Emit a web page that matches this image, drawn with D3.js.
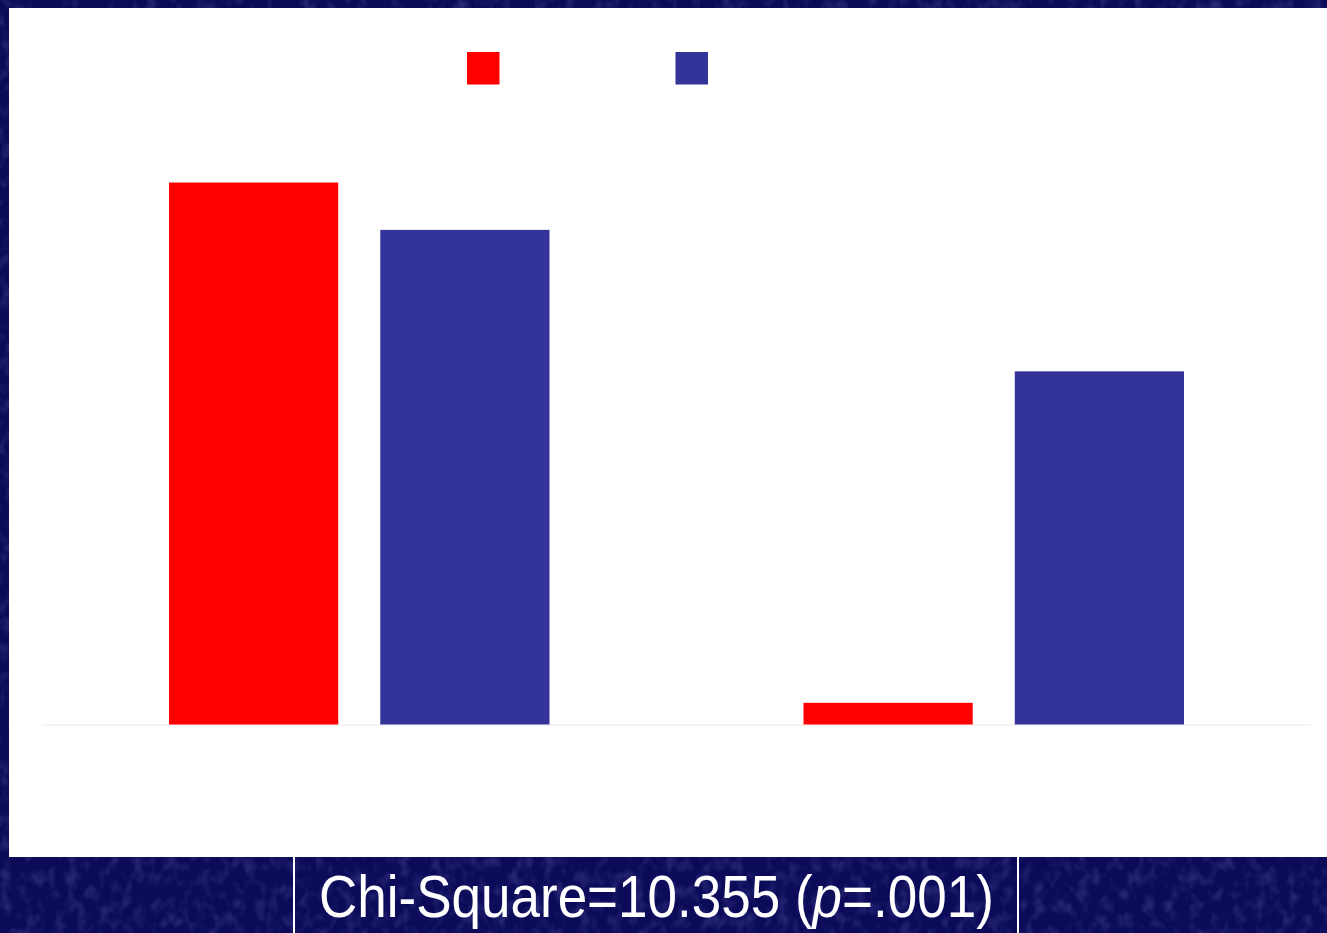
<!DOCTYPE html>
<html>
<head>
<meta charset="utf-8">
<script src="https://cdn.jsdelivr.net/npm/d3@7"></script>
<style>
  html, body { margin: 0; padding: 0; background: #0b0b5a; }
  svg { display: block; }
</style>
</head>
<body>
<svg id="chart" width="1327" height="933"></svg>
<script>
// Groups, series and percentages per group
const groups = ["Group A", "Group B"];
const series = ["Series 1", "Series 2"];
const seriesColors = ["#ff0000", "#333399"];
const valuesSeries1 = [95.0, 3.8];
const valuesSeries2 = [86.7, 61.9];
const statText = ["Chi-Square=10.355 (", "p", "=.001)"];

const W = 1327, H = 933;
const svg = d3.select("#chart");

// textured navy slide background
const defs = svg.append("defs");
const f = defs.append("filter").attr("id", "grain")
  .attr("x", 0).attr("y", 0).attr("width", "100%").attr("height", "100%");
f.append("feTurbulence").attr("type", "fractalNoise")
  .attr("baseFrequency", "0.09 0.07").attr("numOctaves", 2).attr("seed", 7);
f.append("feColorMatrix").attr("type", "matrix")
  .attr("values", "0 0 0 0 0.2  0 0 0 0 0.2  0 0 0 0 0.58  0 0 0 1.1 -0.5");
f.append("feComposite").attr("in2", "SourceGraphic").attr("operator", "in");

svg.append("rect").attr("width", W).attr("height", H).attr("fill", "#0b0b5a");
svg.append("rect").attr("width", W).attr("height", H).attr("fill", "#000")
  .attr("filter", "url(#grain)").attr("opacity", 0.55);

// white chart panel
const panel = { x: 9, y: 8, w: W - 9, h: 849 };
svg.append("rect").attr("x", panel.x).attr("y", panel.y)
  .attr("width", panel.w).attr("height", panel.h).attr("fill", "#ffffff");

// scales
const plotLeft = 42, plotRight = 1311, baseY = 724.5, plotH = 570.5;
const x0 = d3.scaleBand().domain(groups).range([plotLeft, plotRight]).padding(0);
const x1 = d3.scaleBand().domain(series)
  .range([127, x0.bandwidth() - 127]).paddingInner(0.199).paddingOuter(0);
const y = d3.scaleLinear().domain([0, 100]).range([baseY, baseY - plotH]);
const color = d3.scaleOrdinal().domain(series).range(seriesColors);

const rows = groups.map((g, i) => ({
  group: g,
  vals: [
    { key: series[0], value: valuesSeries1[i] },
    { key: series[1], value: valuesSeries2[i] }
  ]
}));

// baseline
svg.append("line")
  .attr("x1", plotLeft).attr("x2", plotRight)
  .attr("y1", baseY + 0.5).attr("y2", baseY + 0.5)
  .attr("stroke", "#f0f0f0").attr("stroke-width", 1.5);

// bars
svg.append("g").selectAll("g").data(rows).join("g")
  .attr("transform", d => `translate(${x0(d.group)},0)`)
  .selectAll("rect").data(d => d.vals).join("rect")
  .attr("x", d => x1(d.key))
  .attr("width", x1.bandwidth())
  .attr("y", d => y(d.value))
  .attr("height", d => y(0) - y(d.value))
  .attr("fill", d => color(d.key));

// legend swatches
const legendX = d3.scalePoint().domain(series).range([467, 675.5]);
svg.append("g").selectAll("rect").data(series).join("rect")
  .attr("x", d => legendX(d)).attr("y", 52)
  .attr("width", 32.5).attr("height", 32.5)
  .attr("fill", d => color(d));

// bottom statistic box dividers
[294, 1018].forEach(xv => {
  svg.append("line").attr("x1", xv).attr("x2", xv)
    .attr("y1", panel.y + panel.h).attr("y2", H)
    .attr("stroke", "#ffffff").attr("stroke-width", 2);
});

// statistic caption
const cap = svg.append("text")
  .attr("font-family", "Liberation Sans, Arial, sans-serif")
  .attr("font-size", 59)
  .attr("fill", "#ffffff");
cap.append("tspan").text(statText[0]);
cap.append("tspan").attr("font-style", "italic").text(statText[1]);
cap.append("tspan").text(statText[2]);
const natural = cap.node().getComputedTextLength();
const sx = 675 / natural;
cap.attr("transform", `translate(319,917) scale(${sx},1)`);
</script>
</body>
</html>
